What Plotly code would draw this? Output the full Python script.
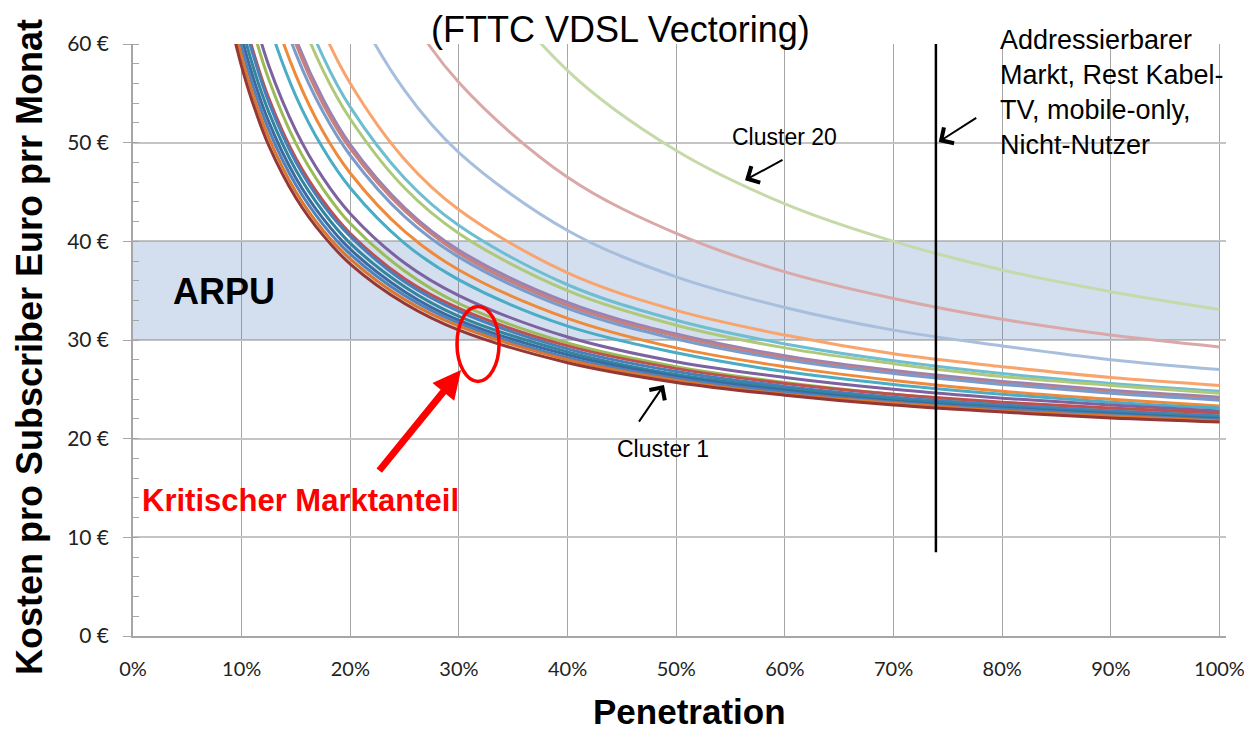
import plotly.graph_objects as go

# ---------------- data ----------------
penetration = [0.09, 0.10, 0.11, 0.125, 0.15, 0.175, 0.20, 0.25, 0.30,
               0.40, 0.50, 0.60, 0.70, 0.80, 0.90, 1.00]

cluster_01 = [62.1, 57.7, 54.1, 49.7, 44.4, 40.6, 37.7, 33.7, 31.0, 27.7, 25.7, 24.4, 23.4, 22.7, 22.1, 21.7]
cluster_02 = [63.3, 58.7, 55.0, 50.5, 45.0, 41.1, 38.2, 34.1, 31.4, 28.0, 25.9, 24.5, 23.6, 22.8, 22.3, 21.8]
cluster_03 = [64.4, 59.7, 55.9, 51.3, 45.7, 41.7, 38.7, 34.5, 31.7, 28.2, 26.1, 24.7, 23.7, 23.0, 22.4, 21.9]
cluster_04 = [65.5, 60.7, 56.8, 52.1, 46.4, 42.3, 39.2, 34.9, 32.0, 28.5, 26.3, 24.9, 23.8, 23.1, 22.5, 22.0]
cluster_05 = [66.8, 61.9, 57.9, 53.1, 47.2, 43.0, 39.8, 35.4, 32.4, 28.8, 26.5, 25.1, 24.0, 23.2, 22.6, 22.1]
cluster_06 = [68.3, 63.2, 59.1, 54.1, 48.0, 43.7, 40.5, 35.9, 32.9, 29.1, 26.8, 25.3, 24.2, 23.4, 22.8, 22.3]
cluster_07 = [68.7, 63.6, 59.5, 54.5, 48.4, 44.1, 40.8, 36.2, 33.2, 29.4, 27.1, 25.6, 24.5, 23.7, 23.1, 22.6]
cluster_08 = [71.5, 66.1, 61.7, 56.4, 49.9, 45.3, 41.8, 37.0, 33.7, 29.7, 27.3, 25.7, 24.5, 23.6, 23.0, 22.4]
cluster_09 = [73.4, 67.8, 63.3, 57.8, 51.2, 46.4, 42.8, 37.8, 34.5, 30.3, 27.8, 26.2, 25.0, 24.1, 23.4, 22.8]
cluster_10 = [79.5, 73.3, 68.2, 62.1, 54.7, 49.4, 45.4, 39.8, 36.1, 31.4, 28.7, 26.8, 25.5, 24.5, 23.7, 23.1]
cluster_11 = [83.0, 76.4, 71.1, 64.6, 56.8, 51.1, 46.9, 41.0, 37.1, 32.2, 29.2, 27.3, 25.9, 24.8, 24.0, 23.3]
cluster_12 = [86.6, 79.7, 74.1, 67.3, 59.0, 53.1, 48.7, 42.5, 38.4, 33.2, 30.1, 28.0, 26.6, 25.5, 24.6, 23.9]
cluster_13 = [88.2, 81.2, 75.4, 68.5, 60.0, 53.9, 49.4, 43.1, 38.8, 33.5, 30.4, 28.2, 26.7, 25.6, 24.7, 24.0]
cluster_14 = [89.0, 81.8, 76.0, 69.0, 60.5, 54.4, 49.8, 43.4, 39.1, 33.8, 30.6, 28.4, 26.9, 25.8, 24.9, 24.2]
cluster_15 = [94.8, 87.1, 80.8, 73.2, 63.9, 57.3, 52.4, 45.4, 40.8, 35.0, 31.5, 29.2, 27.6, 26.3, 25.4, 24.6]
cluster_16 = [97.5, 89.5, 83.0, 75.2, 65.6, 58.7, 53.6, 46.4, 41.6, 35.6, 32.0, 29.6, 27.9, 26.6, 25.6, 24.8]
cluster_17 = [None, 94.2, 87.3, 78.9, 68.7, 61.4, 56.0, 48.3, 43.2, 36.8, 33.0, 30.5, 28.6, 27.3, 26.2, 25.4]
cluster_18 = [None, None, None, 93.0, 80.4, 71.5, 64.7, 55.3, 49.0, 41.1, 36.4, 33.3, 31.0, 29.4, 28.0, 27.0]
cluster_19 = [None, None, None, None, 94.4, 83.5, 75.3, 63.8, 56.1, 46.5, 40.8, 36.9, 34.2, 32.1, 30.5, 29.3]
cluster_20 = [None, None, None, None, None, None, 97.5, 81.4, 70.7, 57.3, 49.2, 43.8, 40.0, 37.1, 34.9, 33.1]

cluster_names = ["Cluster %d" % i for i in range(1, 21)]

x_ticks = [0.0, 0.1, 0.2, 0.3, 0.4, 0.5, 0.6, 0.7, 0.8, 0.9, 1.0]
x_tick_labels = ["0%", "10%", "20%", "30%", "40%", "50%", "60%", "70%", "80%", "90%", "100%"]
y_ticks = [0, 10, 20, 30, 40, 50, 60]
y_tick_labels = ["0 €", "10 €", "20 €", "30 €", "40 €", "50 €", "60 €"]

arpu_low, arpu_high = 30, 40
addressable_market = 0.739
addressable_line_bottom = 8.5

# ---------------- styling ----------------
colors = ["#953735", "#D9772F", "#4F81BD", "#3A6AA0", "#31859C", "#4A7EBB",
          "#C0504D", "#9BBB59", "#7D62A0", "#4BACC6", "#EE8A3A", "#7A9CCB",
          "#C97F7C", "#9983B5", "#AFC97A", "#6FBDD1", "#F9A46C", "#A7BEDD",
          "#D9A8A7", "#C6D9A8"]

series = [cluster_01, cluster_02, cluster_03, cluster_04, cluster_05,
          cluster_06, cluster_07, cluster_08, cluster_09, cluster_10,
          cluster_11, cluster_12, cluster_13, cluster_14, cluster_15,
          cluster_16, cluster_17, cluster_18, cluster_19, cluster_20]

fig = go.Figure()
order = list(range(19, -1, -1))
for i in order:
    fig.add_trace(go.Scatter(
        x=penetration, y=series[i], mode="lines", name=cluster_names[i],
        line=dict(color=colors[i], width=3, shape="spline", smoothing=1.0),
        hoverinfo="skip"))

ARIAL = "Arial, Liberation Sans, sans-serif"
TICKF = "Lato, Carlito, sans-serif"

fig.update_layout(
    width=1252, height=731,
    margin=dict(l=125, r=34, t=36, b=103),
    plot_bgcolor="white", paper_bgcolor="white",
    showlegend=False,
    xaxis=dict(range=[0, 1.006], tickvals=x_ticks, ticktext=x_tick_labels,
               showgrid=True, gridcolor="#A6A6A6", gridwidth=1,
               showline=True, linecolor="#A6A6A6", linewidth=1.5,
               zeroline=False, ticks="", ticklabelstandoff=14,
               tickfont=dict(family=TICKF, size=20, color="#222222")),
    yaxis=dict(range=[0, 60], tickvals=y_ticks, ticktext=y_tick_labels,
               showgrid=True, gridcolor="#C4C4C4", gridwidth=1.5,
               showline=True, linecolor="#A6A6A6", linewidth=1.5,
               zeroline=False, ticks="outside", ticklen=8, tickcolor="#A6A6A6",
               ticklabelstandoff=10,
               minor=dict(dtick=2, ticks="inside", ticklen=6, tickcolor="#A6A6A6",
                          showgrid=False),
               tickfont=dict(family=TICKF, size=21, color="#222222")),
)

# ARPU band
fig.add_shape(type="rect", xref="x", yref="y", x0=0, x1=1.0, y0=arpu_low, y1=arpu_high,
              fillcolor="rgba(79,129,189,0.25)", line=dict(width=0), layer="between")
# addressable market line
fig.add_shape(type="line", xref="x", yref="y", x0=addressable_market, x1=addressable_market,
              y0=addressable_line_bottom, y1=60, line=dict(color="black", width=2.5), layer="above")
# red ellipse
fig.add_shape(type="circle", xref="x", yref="y", x0=0.2982, x1=0.3369, y0=25.8, y1=33.4,
              line=dict(color="#FF0000", width=3.5), layer="above")

ann = []
ann.append(dict(text="(FTTC VDSL Vectoring)", xref="paper", yref="paper", x=0.4456, y=1.0253,
                xanchor="center", yanchor="middle", showarrow=False,
                font=dict(family=ARIAL, size=36, color="black")))
ann.append(dict(text="<b>Kosten pro Subscriber Euro prr Monat</b>", xref="paper", yref="paper",
                x=-0.0942, y=0.4882, textangle=-90, xanchor="center", yanchor="middle",
                showarrow=False, font=dict(family=ARIAL, size=36, color="black")))
ann.append(dict(text="<b>Penetration</b>", xref="paper", yref="paper", x=0.5087, y=-0.1267,
                xanchor="center", yanchor="middle", showarrow=False,
                font=dict(family=ARIAL, size=35, color="black")))
ann.append(dict(text="<b>ARPU</b>", xref="x", yref="y", x=0.0838, y=34.95,
                xanchor="center", yanchor="middle", showarrow=False,
                font=dict(family=ARIAL, size=36, color="black")))
ann.append(dict(text="<b>Kritischer Marktanteil</b>", xref="x", yref="y", x=0.0064, y=13.7,
                xanchor="left", yanchor="middle", showarrow=False,
                font=dict(family=ARIAL, size=31, color="#FF0000")))
ann.append(dict(text="Cluster 20", xref="x", yref="y", x=0.600, y=50.56,
                xanchor="center", yanchor="middle", showarrow=False,
                font=dict(family=ARIAL, size=23, color="black")))
ann.append(dict(text="Cluster 1", xref="x", yref="y", x=0.4878, y=18.95,
                xanchor="center", yanchor="middle", showarrow=False,
                font=dict(family=ARIAL, size=23, color="black")))
ann.append(dict(text="Addressierbarer<br>Markt, Rest Kabel-<br>TV, mobile-only,<br>Nicht-Nutzer",
                xref="x", yref="y", x=0.7961, y=55.07, xanchor="left", yanchor="middle",
                align="left", showarrow=False,
                font=dict(family=ARIAL, size=27, color="black")))
# arrows
ann.append(dict(text="", xref="x", yref="y", x=0.5633, y=46.2, ax=39, ay=-21,
                showarrow=True, arrowhead=4, arrowsize=1.8, arrowwidth=2, arrowcolor="black"))
ann.append(dict(text="", xref="x", yref="y", x=0.4887, y=25.43, ax=-26, ay=38,
                showarrow=True, arrowhead=4, arrowsize=1.8, arrowwidth=2, arrowcolor="black"))
ann.append(dict(text="", xref="x", yref="y", x=0.7416, y=50.08, ax=39, ay=-25,
                showarrow=True, arrowhead=4, arrowsize=1.8, arrowwidth=2, arrowcolor="black"))
ann.append(dict(text="", xref="x", yref="y", x=0.3019, y=26.95, ax=-83, ay=102,
                showarrow=True, arrowhead=2, arrowsize=0.8, arrowwidth=7, arrowcolor="#FF0000"))
fig.update_layout(annotations=ann)

fig.write_html("out.html")
